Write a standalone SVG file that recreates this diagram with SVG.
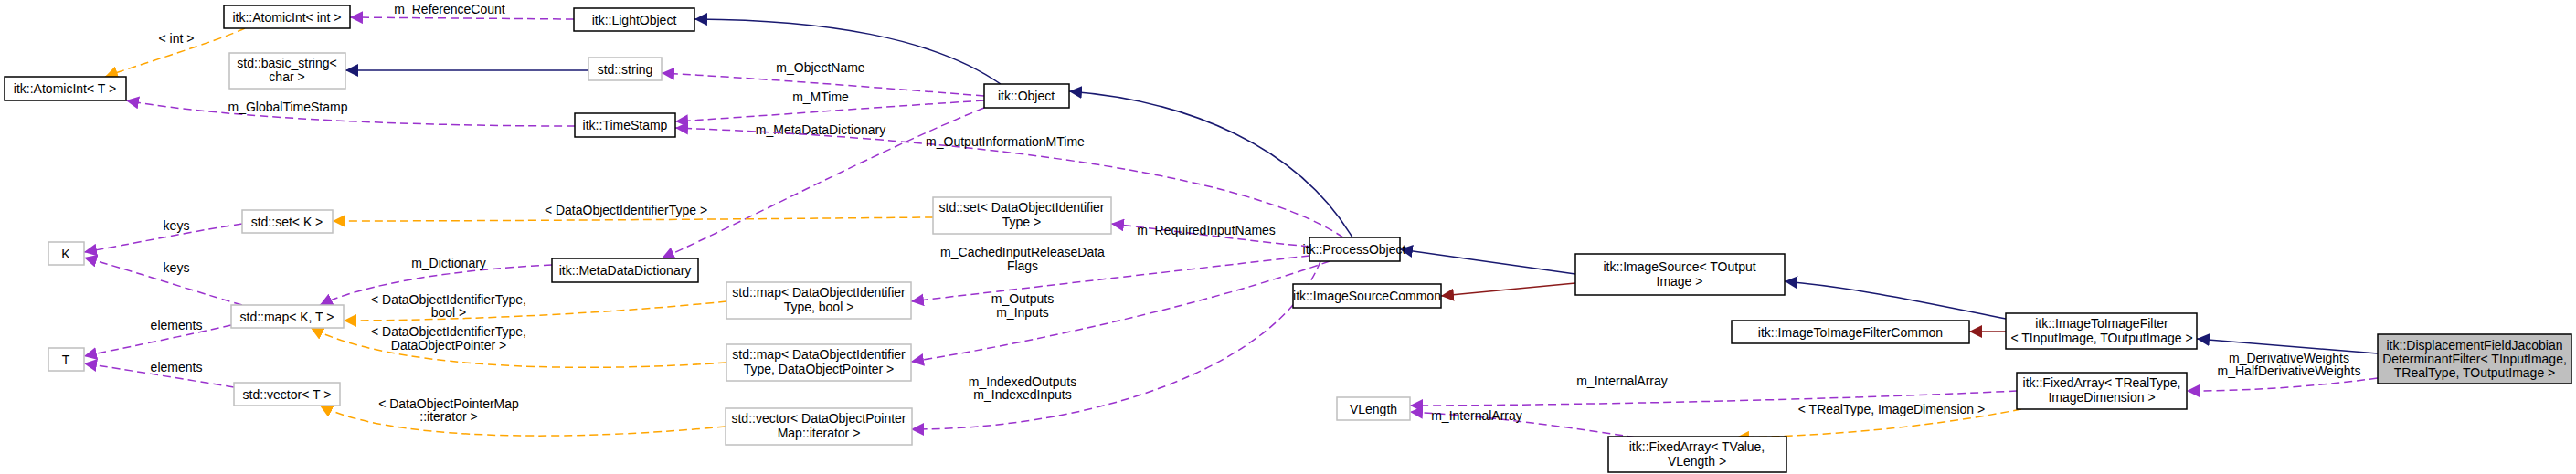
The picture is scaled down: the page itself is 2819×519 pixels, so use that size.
<svg xmlns="http://www.w3.org/2000/svg" width="2819" height="519" viewBox="0 0 2819 519">
<style>
text{font-family:"Liberation Sans",Arial,sans-serif;font-size:14px;fill:#000;text-anchor:middle}
.n rect{fill:#fff;stroke:#000;stroke-width:1.5}
.g rect{fill:#fff;stroke:#bfbfbf;stroke-width:1.5}
.e{fill:none;stroke-width:1.5}
.p{stroke:#9a32cd;stroke-dasharray:9,5;marker-end:url(#mp)}
.o{stroke:#ffa500;stroke-dasharray:9,5;marker-end:url(#mo)}
.b{stroke:#191970;marker-end:url(#mb)}
.r{stroke:#8b1a1a;marker-end:url(#mr)}
</style>
<defs>
<marker id="mp" viewBox="0 0 10 10" refX="10" refY="5" markerWidth="14" markerHeight="14" markerUnits="userSpaceOnUse" orient="auto"><path d="M0,0L10,5L0,10z" fill="#9a32cd"/></marker>
<marker id="mo" viewBox="0 0 10 10" refX="10" refY="5" markerWidth="14" markerHeight="14" markerUnits="userSpaceOnUse" orient="auto"><path d="M0,0L10,5L0,10z" fill="#ffa500"/></marker>
<marker id="mb" viewBox="0 0 10 10" refX="10" refY="5" markerWidth="14" markerHeight="14" markerUnits="userSpaceOnUse" orient="auto"><path d="M0,0L10,5L0,10z" fill="#191970"/></marker>
<marker id="mr" viewBox="0 0 10 10" refX="10" refY="5" markerWidth="14" markerHeight="14" markerUnits="userSpaceOnUse" orient="auto"><path d="M0,0L10,5L0,10z" fill="#8b1a1a"/></marker>
</defs>
<g id="edges">
<path class="e o" d="M268,31 C230,48 160,68 115,84"/><text x="193" y="47">&lt; int &gt;</text>
<path class="e p" d="M628,21 L383,19"/><text x="492" y="15">m_ReferenceCount</text>
<path class="e b" d="M1095,92 C1020,40 900,22 760,21"/>
<path class="e b" d="M644,77 L378,77"/>
<path class="e p" d="M1077,105 C950,95 820,85 724,80"/><text x="898" y="79">m_ObjectName</text>
<path class="e p" d="M1077,110 C950,118 820,128 739,133"/><text x="898" y="111">m_MTime</text>
<path class="e p" d="M629,138 C450,138 250,130 138,110"/><text x="315" y="122">m_GlobalTimeStamp</text>
<path class="e p" d="M1077,118 C950,170 820,240 724,283"/><text x="898" y="147">m_MetaDataDictionary</text>
<path class="e p" d="M1470,260 C1350,180 1000,150 739,140"/><text x="1100" y="160">m_OutputInformationMTime</text>
<path class="e b" d="M1480,260 C1420,160 1300,110 1170,100"/>
<path class="e p" d="M1433,270 C1350,262 1280,252 1216,245"/><text x="1320" y="257">m_RequiredInputNames</text>
<path class="e p" d="M1433,280 C1300,295 1100,318 997,330"/><text x="1119" y="281">m_CachedInputReleaseData</text><text x="1119" y="296">Flags</text>
<path class="e p" d="M1455,286 C1300,340 1100,380 997,396"/><text x="1119" y="332">m_Outputs</text><text x="1119" y="347">m_Inputs</text>
<path class="e p" d="M1445,286 C1400,400 1200,470 997,470"/><text x="1119" y="423">m_IndexedOutputs</text><text x="1119" y="437">m_IndexedInputs</text>
<path class="e o" d="M1021,238 C800,240 550,242 364,242"/><text x="685" y="235">&lt; DataObjectIdentifierType &gt;</text>
<path class="e p" d="M604,290 C500,295 400,310 350,334"/><text x="491" y="293">m_Dictionary</text>
<path class="e o" d="M795,330 C650,345 480,351 376,351"/><text x="491" y="333">&lt; DataObjectIdentifierType,</text><text x="491" y="347">bool &gt;</text>
<path class="e o" d="M795,397 C600,410 420,400 340,359"/><text x="491" y="368">&lt; DataObjectIdentifierType,</text><text x="491" y="383">DataObjectPointer &gt;</text>
<path class="e o" d="M794,467 C600,485 420,480 350,444"/><text x="491" y="447">&lt; DataObjectPointerMap</text><text x="491" y="461">::iterator &gt;</text>
<path class="e p" d="M265,245 C200,255 140,268 92,276"/><text x="193" y="252">keys</text>
<path class="e p" d="M265,334 C200,315 140,295 92,282"/><text x="193" y="298">keys</text>
<path class="e p" d="M253,356 C200,368 140,380 92,390"/><text x="193" y="361">elements</text>
<path class="e p" d="M256,424 C200,415 140,405 92,398"/><text x="193" y="407">elements</text>
<path class="e b" d="M1724,300 L1532,273"/>
<path class="e r" d="M1724,310 L1577,324"/>
<path class="e b" d="M2195,349 C2100,330 2030,315 1953,308"/>
<path class="e r" d="M2195,363 L2155,363"/>
<path class="e b" d="M2602,387 L2404,371"/>
<path class="e p" d="M2602,414 C2520,425 2450,428 2393,428"/><text x="2505" y="397">m_DerivativeWeights</text><text x="2505" y="411">m_HalfDerivativeWeights</text>
<path class="e p" d="M2207,428 C2000,438 1700,444 1543,444"/><text x="1775" y="422">m_InternalArray</text>
<path class="e p" d="M1790,479 C1700,465 1620,455 1543,451"/><text x="1616" y="460">m_InternalArray</text>
<path class="e o" d="M2212,448 C2100,470 1980,478 1900,479"/><text x="2070" y="453">&lt; TRealType, ImageDimension &gt;</text>
</g>
<g id="AtomicIntT" class="n"><rect x="5" y="84" width="133" height="26"/><text x="71" y="102">itk::AtomicInt&lt; T &gt;</text></g>
<g id="AtomicIntInt" class="n"><rect x="245" y="6" width="138" height="25"/><text x="314" y="24">itk::AtomicInt&lt; int &gt;</text></g>
<g id="LightObject" class="n"><rect x="628" y="9" width="132" height="25"/><text x="694" y="27">itk::LightObject</text></g>
<g id="BasicString" class="g"><rect x="251" y="58" width="127" height="39"/><text x="314" y="74">std::basic_string&lt;</text><text x="314" y="89">char &gt;</text></g>
<g id="StdString" class="g"><rect x="644" y="63" width="80" height="25"/><text x="684" y="81">std::string</text></g>
<g id="TimeStamp" class="n"><rect x="629" y="124" width="110" height="26"/><text x="684" y="142">itk::TimeStamp</text></g>
<g id="Object" class="n"><rect x="1077" y="92" width="93" height="26"/><text x="1123" y="110">itk::Object</text></g>
<g id="MetaDataDictionary" class="n"><rect x="604" y="283" width="160" height="26"/><text x="684" y="301">itk::MetaDataDictionary</text></g>
<g id="SetDOIT" class="g"><rect x="1021" y="216" width="195" height="40"/><text x="1118" y="232">std::set&lt; DataObjectIdentifier</text><text x="1118" y="248">Type &gt;</text></g>
<g id="ProcessObject" class="n"><rect x="1433" y="260" width="99" height="26"/><text x="1482" y="278">itk::ProcessObject</text></g>
<g id="ImageSourceCommon" class="n"><rect x="1415" y="311" width="162" height="26"/><text x="1496" y="329">itk::ImageSourceCommon</text></g>
<g id="MapBool" class="g"><rect x="795" y="309" width="202" height="40"/><text x="896" y="325">std::map&lt; DataObjectIdentifier</text><text x="896" y="341">Type, bool &gt;</text></g>
<g id="MapDOP" class="g"><rect x="795" y="377" width="202" height="40"/><text x="896" y="393">std::map&lt; DataObjectIdentifier</text><text x="896" y="409">Type, DataObjectPointer &gt;</text></g>
<g id="VectorDOPMap" class="g"><rect x="794" y="447" width="204" height="40"/><text x="896" y="463">std::vector&lt; DataObjectPointer</text><text x="896" y="479">Map::iterator &gt;</text></g>
<g id="VLength" class="g"><rect x="1463" y="435" width="80" height="25"/><text x="1503" y="453">VLength</text></g>
<g id="FixedArrayTValue" class="n"><rect x="1760" y="478" width="195" height="39"/><text x="1857" y="494">itk::FixedArray&lt; TValue,</text><text x="1857" y="510">VLength &gt;</text></g>
<g id="FixedArrayTReal" class="n"><rect x="2207" y="408" width="186" height="40"/><text x="2300" y="424">itk::FixedArray&lt; TRealType,</text><text x="2300" y="440">ImageDimension &gt;</text></g>
<g id="ImageToImageFilter" class="n"><rect x="2195" y="343" width="209" height="39"/><text x="2300" y="359">itk::ImageToImageFilter</text><text x="2300" y="375">&lt; TInputImage, TOutputImage &gt;</text></g>
<g id="ImageToImageFilterCommon" class="n"><rect x="1895" y="351" width="260" height="25"/><text x="2025" y="369">itk::ImageToImageFilterCommon</text></g>
<g id="ImageSource" class="n"><rect x="1724" y="278" width="229" height="45"/><text x="1838" y="297">itk::ImageSource&lt; TOutput</text><text x="1838" y="313">Image &gt;</text></g>
<g id="Displacement" class="n"><rect x="2602" y="366" width="212" height="54" style="fill:#bfbfbf"/><text x="2708" y="383">itk::DisplacementFieldJacobian</text><text x="2708" y="398">DeterminantFilter&lt; TInputImage,</text><text x="2708" y="413">TRealType, TOutputImage &gt;</text></g>
<g id="SetK" class="g"><rect x="265" y="230" width="99" height="25"/><text x="314" y="248">std::set&lt; K &gt;</text></g>
<g id="K" class="g"><rect x="53" y="265" width="39" height="25"/><text x="72" y="283">K</text></g>
<g id="MapKT" class="g"><rect x="253" y="334" width="123" height="25"/><text x="314" y="352">std::map&lt; K, T &gt;</text></g>
<g id="T" class="g"><rect x="53" y="381" width="39" height="25"/><text x="72" y="399">T</text></g>
<g id="VectorT" class="g"><rect x="256" y="419" width="116" height="25"/><text x="314" y="437">std::vector&lt; T &gt;</text></g>
</svg>
